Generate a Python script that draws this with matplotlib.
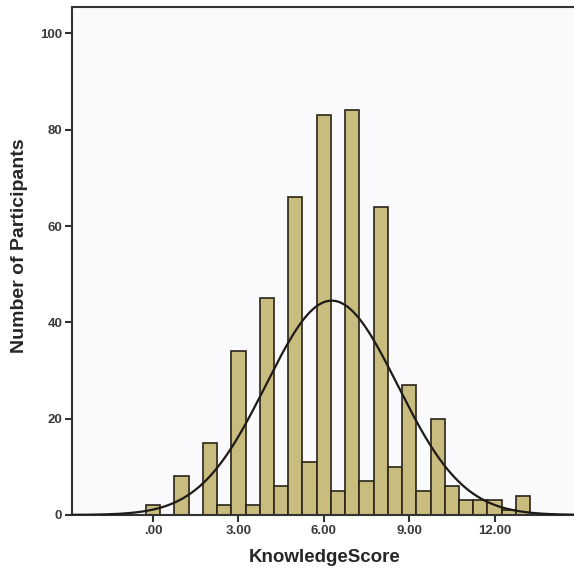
import numpy as np
import matplotlib.pyplot as plt

plt.rcParams['font.family'] = ['Liberation Sans', 'DejaVu Sans']
plt.rcParams['font.weight'] = 'bold'

# histogram bins (width 0.5) and counts
bin_centers = np.arange(0, 13.01, 0.5)
counts = [2, 0, 8, 0, 15, 2, 34, 2, 45, 6, 66, 11, 83, 5,
          84, 7, 64, 10, 27, 5, 20, 6, 3, 3, 3, 1, 4]
bin_width = 0.5

x_ticks = [0, 3, 6, 9, 12]
x_tick_labels = ['.00', '3.00', '6.00', '9.00', '12.00']
y_ticks = [0, 20, 40, 60, 80, 100]

counts = np.array(counts)
n = counts.sum()
mean = (bin_centers * counts).sum() / n
sd = np.sqrt(((bin_centers - mean) ** 2 * counts).sum() / (n - 1))

fig = plt.figure(figsize=(5.74, 5.76), dpi=100)
ax = fig.add_axes([0.1254, 0.106, 0.88, 0.882])
ax.set_facecolor('#fafafc')

ax.bar(bin_centers, counts, width=bin_width, color='#c8bc7e',
       edgecolor='#2a2418', linewidth=1.2, zorder=2)

xs = np.linspace(-2.9, 14.8, 400)
pdf = n * bin_width / (sd * np.sqrt(2 * np.pi)) * np.exp(-0.5 * ((xs - mean) / sd) ** 2)
ax.plot(xs, pdf, color='#1e1a18', linewidth=1.6, zorder=3)

ax.set_xlim(-2.85, 14.9)
ax.set_ylim(0, 105.5)
ax.set_xticks(x_ticks)
ax.set_xticklabels(x_tick_labels)
ax.set_yticks(y_ticks)
for s in ax.spines.values():
    s.set_color('#333333')
    s.set_linewidth(1.5)
ax.spines['right'].set_visible(False)
ax.tick_params(axis='both', direction='out', length=5, width=1.5,
               colors='#333333', labelsize=9.5, pad=2)
for lab in ax.get_xticklabels() + ax.get_yticklabels():
    lab.set_color('#3a3a3a')

ax.set_xlabel('KnowledgeScore', fontsize=13.5, fontweight='bold',
              color='#262626', labelpad=9)
ax.set_ylabel('Number of Participants', fontsize=14, fontweight='bold',
              color='#262626')
ax.yaxis.set_label_coords(-0.088, 0.53)

fig.savefig('out.png', dpi=100)
